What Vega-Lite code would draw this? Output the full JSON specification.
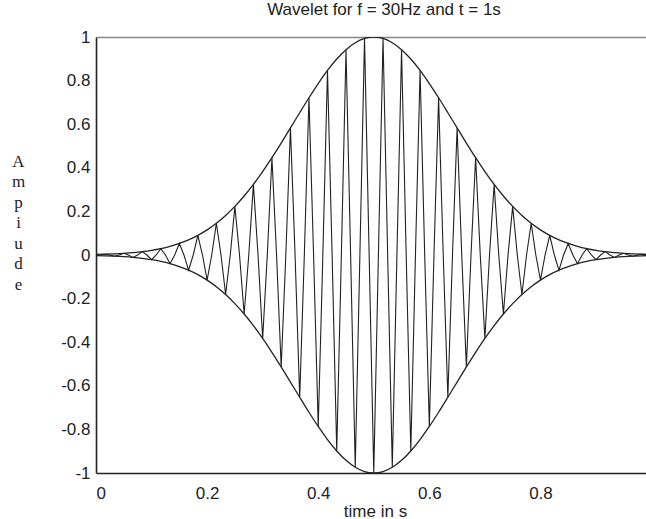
{
  "$schema": "https://vega.github.io/schema/vega-lite/v6.json",
  "width": 550,
  "height": 436,
  "autosize": {"type": "none"},
  "padding": {"left": 96, "top": 37, "right": 0, "bottom": 46},
  "background": "white",
  "title": {"text": "Wavelet for f = 30Hz and t = 1s", "font": "Liberation Sans", "fontSize": 17, "fontWeight": "normal", "color": "#222", "anchor": "middle", "dx": 13, "offset": -4, "baseline": "alphabetic"},
  "config": {
    "view": {"stroke": null},
    "axis": {"labelFont": "Liberation Sans", "labelFontSize": 17, "labelColor": "#222", "titleFont": "Liberation Sans", "titleFontSize": 17, "titleFontWeight": "normal", "titleColor": "#222", "grid": false, "domain": true, "domainColor": "#222", "domainWidth": 1.6, "ticks": false}
  },
  "datasets": {
    "wave": [
      {"t":0,"w":-0.00248},{"t":0.00833,"w":0},{"t":0.01667,"w":0.00367},{"t":0.025,"w":0},{"t":0.03333,"w":-0.00537},{"t":0.04167,"w":0},{"t":0.05,"w":0.00775},{"t":0.05833,"w":0},{"t":0.06667,"w":-0.01103},{"t":0.075,"w":0},
      {"t":0.08333,"w":0.0155},{"t":0.09167,"w":0},{"t":0.1,"w":-0.02149},{"t":0.10833,"w":0},{"t":0.11667,"w":0.02941},{"t":0.125,"w":0},{"t":0.13333,"w":-0.0397},{"t":0.14167,"w":0},{"t":0.15,"w":0.05287},{"t":0.15833,"w":0},
      {"t":0.16667,"w":-0.06948},{"t":0.175,"w":0},{"t":0.18333,"w":0.09012},{"t":0.19167,"w":0},{"t":0.2,"w":-0.11533},{"t":0.20833,"w":0},{"t":0.21667,"w":0.14561},{"t":0.225,"w":0},{"t":0.23333,"w":-0.18147},{"t":0.24167,"w":0},
      {"t":0.25,"w":0.22313},{"t":0.25833,"w":0},{"t":0.26667,"w":-0.27072},{"t":0.275,"w":0},{"t":0.28333,"w":0.3241},{"t":0.29167,"w":0},{"t":0.3,"w":-0.38289},{"t":0.30833,"w":0},{"t":0.31667,"w":0.44634},{"t":0.325,"w":0},
      {"t":0.33333,"w":-0.51342},{"t":0.34167,"w":0},{"t":0.35,"w":0.58275},{"t":0.35833,"w":0},{"t":0.36667,"w":-0.65267},{"t":0.375,"w":0},{"t":0.38333,"w":0.72128},{"t":0.39167,"w":0},{"t":0.4,"w":-0.78663},{"t":0.40833,"w":0},
      {"t":0.41667,"w":0.84648},{"t":0.425,"w":0},{"t":0.43333,"w":-0.89883},{"t":0.44167,"w":0},{"t":0.45,"w":0.94176},{"t":0.45833,"w":0},{"t":0.46667,"w":-0.97369},{"t":0.475,"w":0},{"t":0.48333,"w":0.99336},{"t":0.49167,"w":0},
      {"t":0.5,"w":-1},
      {"t":0.50833,"w":0},{"t":0.51667,"w":0.99336},{"t":0.525,"w":0},{"t":0.53333,"w":-0.97369},{"t":0.54167,"w":0},{"t":0.55,"w":0.94176},{"t":0.55833,"w":0},{"t":0.56667,"w":-0.89883},{"t":0.575,"w":0},{"t":0.58333,"w":0.84648},
      {"t":0.59167,"w":0},{"t":0.6,"w":-0.78663},{"t":0.60833,"w":0},{"t":0.61667,"w":0.72128},{"t":0.625,"w":0},{"t":0.63333,"w":-0.65267},{"t":0.64167,"w":0},{"t":0.65,"w":0.58275},{"t":0.65833,"w":0},{"t":0.66667,"w":-0.51342},
      {"t":0.675,"w":0},{"t":0.68333,"w":0.44634},{"t":0.69167,"w":0},{"t":0.7,"w":-0.38289},{"t":0.70833,"w":0},{"t":0.71667,"w":0.3241},{"t":0.725,"w":0},{"t":0.73333,"w":-0.27072},{"t":0.74167,"w":0},{"t":0.75,"w":0.22313},
      {"t":0.75833,"w":0},{"t":0.76667,"w":-0.18147},{"t":0.775,"w":0},{"t":0.78333,"w":0.14561},{"t":0.79167,"w":0},{"t":0.8,"w":-0.11533},{"t":0.80833,"w":0},{"t":0.81667,"w":0.09012},{"t":0.825,"w":0},{"t":0.83333,"w":-0.06948},
      {"t":0.84167,"w":0},{"t":0.85,"w":0.05287},{"t":0.85833,"w":0},{"t":0.86667,"w":-0.0397},{"t":0.875,"w":0},{"t":0.88333,"w":0.02941},{"t":0.89167,"w":0},{"t":0.9,"w":-0.02149},{"t":0.90833,"w":0},{"t":0.91667,"w":0.0155},
      {"t":0.925,"w":0},{"t":0.93333,"w":-0.01103},{"t":0.94167,"w":0},{"t":0.95,"w":0.00775},{"t":0.95833,"w":0},{"t":0.96667,"w":-0.00537},{"t":0.975,"w":0},{"t":0.98333,"w":0.00367},{"t":0.99167,"w":0},{"t":1,"w":-0.00248}
    ],
    "env": [
      {"t":0,"up":0.00248,"lo":-0.00248},{"t":0.01667,"up":0.00367,"lo":-0.00367},{"t":0.03333,"up":0.00537,"lo":-0.00537},{"t":0.05,"up":0.00775,"lo":-0.00775},{"t":0.06667,"up":0.01103,"lo":-0.01103},
      {"t":0.08333,"up":0.0155,"lo":-0.0155},{"t":0.1,"up":0.02149,"lo":-0.02149},{"t":0.11667,"up":0.02941,"lo":-0.02941},{"t":0.13333,"up":0.0397,"lo":-0.0397},{"t":0.15,"up":0.05287,"lo":-0.05287},
      {"t":0.16667,"up":0.06948,"lo":-0.06948},{"t":0.18333,"up":0.09012,"lo":-0.09012},{"t":0.2,"up":0.11533,"lo":-0.11533},{"t":0.21667,"up":0.14561,"lo":-0.14561},{"t":0.23333,"up":0.18147,"lo":-0.18147},
      {"t":0.25,"up":0.22313,"lo":-0.22313},{"t":0.26667,"up":0.27072,"lo":-0.27072},{"t":0.28333,"up":0.3241,"lo":-0.3241},{"t":0.3,"up":0.38289,"lo":-0.38289},{"t":0.31667,"up":0.44634,"lo":-0.44634},
      {"t":0.33333,"up":0.51342,"lo":-0.51342},{"t":0.35,"up":0.58275,"lo":-0.58275},{"t":0.36667,"up":0.65267,"lo":-0.65267},{"t":0.38333,"up":0.72128,"lo":-0.72128},{"t":0.4,"up":0.78663,"lo":-0.78663},
      {"t":0.41667,"up":0.84648,"lo":-0.84648},{"t":0.43333,"up":0.89883,"lo":-0.89883},{"t":0.45,"up":0.94176,"lo":-0.94176},{"t":0.46667,"up":0.97369,"lo":-0.97369},{"t":0.48333,"up":0.99336,"lo":-0.99336},
      {"t":0.5,"up":1,"lo":-1},
      {"t":0.51667,"up":0.99336,"lo":-0.99336},{"t":0.53333,"up":0.97369,"lo":-0.97369},{"t":0.55,"up":0.94176,"lo":-0.94176},{"t":0.56667,"up":0.89883,"lo":-0.89883},{"t":0.58333,"up":0.84648,"lo":-0.84648},
      {"t":0.6,"up":0.78663,"lo":-0.78663},{"t":0.61667,"up":0.72128,"lo":-0.72128},{"t":0.63333,"up":0.65267,"lo":-0.65267},{"t":0.65,"up":0.58275,"lo":-0.58275},{"t":0.66667,"up":0.51342,"lo":-0.51342},
      {"t":0.68333,"up":0.44634,"lo":-0.44634},{"t":0.7,"up":0.38289,"lo":-0.38289},{"t":0.71667,"up":0.3241,"lo":-0.3241},{"t":0.73333,"up":0.27072,"lo":-0.27072},{"t":0.75,"up":0.22313,"lo":-0.22313},
      {"t":0.76667,"up":0.18147,"lo":-0.18147},{"t":0.78333,"up":0.14561,"lo":-0.14561},{"t":0.8,"up":0.11533,"lo":-0.11533},{"t":0.81667,"up":0.09012,"lo":-0.09012},{"t":0.83333,"up":0.06948,"lo":-0.06948},
      {"t":0.85,"up":0.05287,"lo":-0.05287},{"t":0.86667,"up":0.0397,"lo":-0.0397},{"t":0.88333,"up":0.02941,"lo":-0.02941},{"t":0.9,"up":0.02149,"lo":-0.02149},{"t":0.91667,"up":0.0155,"lo":-0.0155},
      {"t":0.93333,"up":0.01103,"lo":-0.01103},{"t":0.95,"up":0.00775,"lo":-0.00775},{"t":0.96667,"up":0.00537,"lo":-0.00537},{"t":0.98333,"up":0.00367,"lo":-0.00367},{"t":1,"up":0.00248,"lo":-0.00248}
    ]
  },
  "layer": [
    {
      "data": {"name": "wave"},
      "mark": {"type": "line", "stroke": "#222", "strokeWidth": 1.1, "clip": true},
      "encoding": {
        "x": {"field": "t", "type": "quantitative", "scale": {"domain": [0, 0.99], "nice": false, "zero": false},
          "axis": {"orient": "bottom", "values": [0, 0.2, 0.4, 0.6, 0.8], "labelExpr": "'' + datum.value", "title": "time in s", "labelPadding": 25, "labelBaseline": "alphabetic", "titleX": 279, "titleY": 43, "titleBaseline": "alphabetic", "titleAlign": "center"}},
        "y": {"field": "w", "type": "quantitative", "scale": {"domain": [-1, 1], "nice": false},
          "axis": {"orient": "left", "domain": true, "domainColor": "#222", "domainWidth": 1.6, "values": [-1, -0.8, -0.6, -0.4, -0.2, 0, 0.2, 0.4, 0.6, 0.8, 1], "labelExpr": "'' + datum.value", "labelPadding": 6,
            "title": ["A", "m", "p", "i", "u", "d", "e"], "titleFont": "Liberation Serif", "titleFontSize": 17, "titleAngle": 0, "titleAlign": "center", "titleBaseline": "top", "titleX": -78, "titleY": 116, "titleLineHeight": 20.5}}
      }
    },
    {
      "data": {"name": "env"},
      "mark": {"type": "line", "stroke": "#222", "strokeWidth": 1.3, "interpolate": "monotone", "clip": true},
      "encoding": {
        "x": {"field": "t", "type": "quantitative", "axis": {"orient": "top", "labels": false, "title": null, "domainColor": "#888", "domainWidth": 1.5}},
        "y": {"field": "up", "type": "quantitative", "axis": null}
      }
    },
    {
      "data": {"name": "env"},
      "mark": {"type": "line", "stroke": "#222", "strokeWidth": 1.3, "interpolate": "monotone", "clip": true},
      "encoding": {
        "x": {"field": "t", "type": "quantitative", "axis": null},
        "y": {"field": "lo", "type": "quantitative", "axis": null}
      }
    },
    {
      "mark": {"type": "rule", "stroke": "#222", "strokeWidth": 1.8},
      "encoding": {
        "x": {"datum": 0, "type": "quantitative", "axis": null},
        "y": {"datum": -1, "type": "quantitative", "axis": null},
        "y2": {"datum": 1}
      }
    }
  ],
  "resolve": {"axis": {"x": "independent", "y": "independent"}}
}
